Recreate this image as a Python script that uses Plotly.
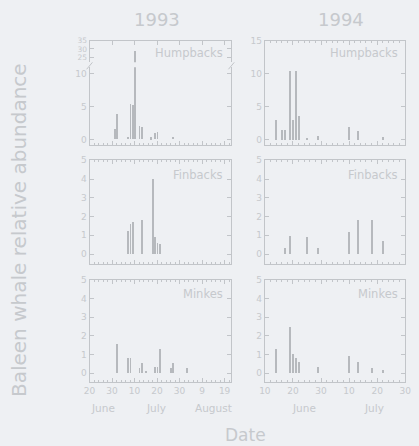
import plotly.graph_objects as go

W, H = 419, 446
DAY = 86400000

# ---------------- data ----------------
hump93_dates = ["1993-07-01", "1993-07-02", "1993-07-07", "1993-07-08", "1993-07-09", "1993-07-10",
                "1993-07-12", "1993-07-13", "1993-07-17", "1993-07-19", "1993-07-20", "1993-07-27"]
hump93_vals = [1.5, 3.8, 0.4, 5.3, 5.2, 29, 2.0, 1.8, 0.3, 1.0, 1.1, 0.4]

fin93_dates = ["1993-07-07", "1993-07-08", "1993-07-09", "1993-07-13", "1993-07-18", "1993-07-19",
               "1993-07-20", "1993-07-21"]
fin93_vals = [1.2, 1.6, 1.7, 1.8, 4.0, 0.9, 0.6, 0.5]

mink93_dates = ["1993-07-02", "1993-07-07", "1993-07-08", "1993-07-12", "1993-07-13", "1993-07-15",
                "1993-07-19", "1993-07-20", "1993-07-21", "1993-07-26", "1993-07-27", "1993-08-02"]
mink93_vals = [1.6, 0.8, 0.8, 0.3, 0.55, 0.15, 0.35, 0.35, 1.3, 0.3, 0.55, 0.3]

hump94_dates = ["1994-06-14", "1994-06-16", "1994-06-17", "1994-06-19", "1994-06-20", "1994-06-21",
                "1994-06-22", "1994-06-25", "1994-06-29", "1994-07-10", "1994-07-13", "1994-07-22"]
hump94_vals = [3.0, 1.5, 1.5, 10.4, 3.0, 10.4, 3.6, 0.2, 0.6, 2.0, 1.3, 0.4]

fin94_dates = ["1994-06-17", "1994-06-19", "1994-06-25", "1994-06-29", "1994-07-10", "1994-07-13",
               "1994-07-18", "1994-07-22"]
fin94_vals = [0.3, 0.95, 0.9, 0.3, 1.15, 1.8, 1.8, 0.7]

mink94_dates = ["1994-06-14", "1994-06-19", "1994-06-20", "1994-06-21", "1994-06-22", "1994-06-29",
                "1994-07-10", "1994-07-13", "1994-07-18", "1994-07-22"]
mink94_vals = [1.3, 2.5, 1.05, 0.8, 0.6, 0.35, 0.95, 0.6, 0.3, 0.2]

years = ["1993", "1994"]
species = ["Humpbacks", "Finbacks", "Minkes"]
months93 = ["June", "July", "August"]
months93_pos = ["1993-06-26", "1993-07-19 12:00", "1993-08-14"]
months94 = ["June", "July"]
months94_pos = ["1994-06-24", "1994-07-19"]

range93 = ["1993-06-20", "1993-08-22"]
range94 = ["1994-06-10", "1994-07-30"]

# ---------------- style ----------------
BG = "#eef0f3"
AX = "#c2c5c9"
TXT = "#c6c9cd"
BAR = "#b6b9bd"
FONT = "DejaVu Sans"


def py(p):
    return 1 - p / H


def px_(p):
    return p / W


XL = [px_(86), px_(232)]
XR = [px_(266.5), px_(411)]
ROW1 = [py(142), py(36)]
ROW1_LO = [py(142), py(63)]
ROW1_HI = [py(58), py(36)]
ROW2 = [py(262), py(157)]
ROW3 = [py(381), py(278)]

fig = go.Figure()


def add_bars(dates, vals, n, width_days):
    fig.add_trace(go.Bar(
        x=dates, y=vals, width=width_days * DAY,
        marker=dict(color=BAR, line=dict(width=0)),
        xaxis="x" if n == 1 else f"x{n}", yaxis="y" if n == 1 else f"y{n}",
        showlegend=False, hoverinfo="x+y"))


# axes numbering:
# 1: 1993 humpbacks lower, 2: 1993 humpbacks upper, 3: 1993 fin, 4: 1993 minke
# 5: 1994 humpbacks, 6: 1994 fin, 7: 1994 minke
add_bars(hump93_dates, hump93_vals, 1, 0.4)
add_bars(hump93_dates, hump93_vals, 2, 0.4)
add_bars(fin93_dates, fin93_vals, 3, 0.4)
add_bars(mink93_dates, mink93_vals, 4, 0.4)
add_bars(hump94_dates, hump94_vals, 5, 0.33)
add_bars(fin94_dates, fin94_vals, 6, 0.33)
add_bars(mink94_dates, mink94_vals, 7, 0.33)


def xaxis(rng, domain, anchor, labels=False, mirror="ticks", side="bottom", minor=True):
    d = dict(type="date", range=rng, domain=domain, anchor=anchor, tick0=rng[0], dtick=10 * DAY,
             tickformat="%-d", ticks="inside", ticklen=4, tickwidth=1, tickcolor=AX,
             showline=True, linecolor=AX, linewidth=1, mirror=mirror, side=side,
             showgrid=False, zeroline=False, showticklabels=labels,
             tickfont=dict(size=9, color=TXT, family=FONT))
    if minor:
        d["minor"] = dict(dtick=2 * DAY, tick0=rng[0], ticks="inside", ticklen=2,
                          tickcolor=AX, showgrid=False)
    return d


def yaxis(rng, domain, anchor, dtick, tickvals=None, mirror="ticks", fsize=9):
    d = dict(range=rng, domain=domain, anchor=anchor, dtick=dtick, ticks="inside", ticklen=4,
             tickcolor=AX, showline=True, linecolor=AX, linewidth=1, mirror=mirror,
             showgrid=False, zeroline=False, tickfont=dict(size=fsize, color=TXT, family=FONT))
    if tickvals is not None:
        d["tickvals"] = tickvals
        d["tickmode"] = "array"
    return d


fig.update_layout(
    xaxis=xaxis(range93, XL, "y", mirror=False),
    yaxis=yaxis([-0.9, 11], ROW1_LO, "x", 5, tickvals=[0, 5, 10]),
    xaxis2=xaxis(range93, XL, "y2", mirror=False, side="top", minor=False),
    yaxis2=yaxis([22, 35], ROW1_HI, "x2", 5, tickvals=[25, 30, 35], fsize=7.5),
    xaxis3=xaxis(range93, XL, "y3"),
    yaxis3=yaxis([-0.53, 5], ROW2, "x3", 1),
    xaxis4=xaxis(range93, XL, "y4", labels=True),
    yaxis4=yaxis([-0.45, 5], ROW3, "x4", 1),
    xaxis5=xaxis(range94, XR, "y5"),
    yaxis5=yaxis([-0.9, 15], ROW1, "x5", 5),
    xaxis6=xaxis(range94, XR, "y6"),
    yaxis6=yaxis([-0.53, 5], ROW2, "x6", 1),
    xaxis7=xaxis(range94, XR, "y7", labels=True),
    yaxis7=yaxis([-0.45, 5], ROW3, "x7", 1),
)

ann = []
# year titles
for yr, xc in zip(years, [155, 345]):
    ann.append(dict(text=yr, x=px_(xc), y=py(15), xref="paper", yref="paper", showarrow=False,
                    font=dict(size=18, color=TXT, family=FONT), xanchor="center", yanchor="middle"))
# species labels
for i, sp in enumerate(species):
    ytop = [49, 172, 292][i]
    for xr in [225, 406]:
        ann.append(dict(text=sp, x=px_(xr), y=py(ytop), xref="paper", yref="paper", showarrow=False,
                        font=dict(size=11.5, color=TXT, family=FONT), xanchor="right", yanchor="middle"))
# months
for m, pos in zip(months93, months93_pos):
    ann.append(dict(text=m, x=pos, y=py(408), xref="x4", yref="paper", showarrow=False,
                    font=dict(size=10.5, color=TXT, family=FONT), xanchor="center", yanchor="middle"))
for m, pos in zip(months94, months94_pos):
    ann.append(dict(text=m, x=pos, y=py(408), xref="x7", yref="paper", showarrow=False,
                    font=dict(size=10.5, color=TXT, family=FONT), xanchor="center", yanchor="middle"))
# axis titles
ann.append(dict(text="Baleen whale relative abundance", x=px_(14), y=py(228), xref="paper", yref="paper",
                showarrow=False, textangle=-90, font=dict(size=20, color=TXT, family=FONT),
                xanchor="center", yanchor="middle"))
ann.append(dict(text="Date", x=px_(247), y=py(435), xref="paper", yref="paper", showarrow=False,
                font=dict(size=17, color=TXT, family=FONT), xanchor="center", yanchor="middle"))

# axis break marks
shapes = []
for xe in [86, 232]:
    shapes.append(dict(type="line", xref="paper", yref="paper",
                       x0=px_(xe - 3), y0=py(65), x1=px_(xe + 3), y1=py(58),
                       line=dict(color=AX, width=1)))

fig.update_layout(
    width=W, height=H, autosize=False,
    margin=dict(l=0, r=0, t=0, b=0),
    paper_bgcolor=BG, plot_bgcolor=BG,
    bargap=0, barmode="overlay",
    annotations=ann, shapes=shapes,
    font=dict(family=FONT, color=TXT),
)

fig.write_html("out.html",
               config={"displayModeBar": False},
               post_script="document.body.style.margin='0';document.body.style.overflow='hidden';"
                           "document.body.style.background='" + BG + "';")
